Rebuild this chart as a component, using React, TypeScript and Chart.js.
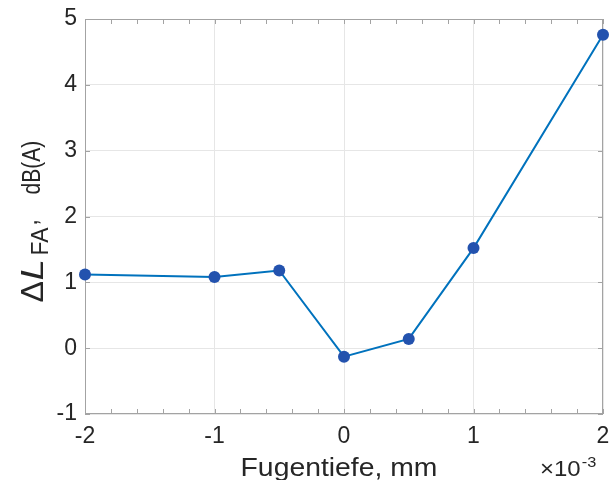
import React, { useEffect, useRef } from "react";
import { Chart, registerables } from "chart.js";

Chart.register(...registerables);

// ---- data (x in units of 10^-3 mm) ----
const depths = [-2, -1, -0.5, 0, 0.5, 1, 2];
const deltaL = [1.12, 1.08, 1.18, -0.13, 0.14, 1.52, 4.76];
const xTicks = [-2, -1, 0, 1, 2];
const yTicks = [-1, 0, 1, 2, 3, 4, 5];
const xMinorStep = 0.2;
const xTitle = "Fugentiefe, mm";
const yTitleDelta = "Δ";
const yTitleSymbol = "L";
const yTitleSub = "FA";
const yTitleComma = ",";
const yTitleUnit = "dB(A)";
const exponentBase = "×10";
const exponentPower = "-3";

const FONT = "'Liberation Sans', Arial, Helvetica, sans-serif";
const TEXT = "#262626";
const AXIS = "#a3a3a3";

function drawRotatedPiece(
  ctx: CanvasRenderingContext2D,
  text: string,
  font: string,
  along: number,
  across: number,
  sAlong: number,
  sAcross: number
) {
  ctx.save();
  ctx.translate(along, across);
  ctx.scale(sAlong, sAcross);
  ctx.font = font;
  ctx.fillText(text, 0, 0);
  ctx.restore();
}

const framePlugin = {
  id: "matlabFrame",
  beforeDatasetsDraw(chart: any) {
    const { ctx, chartArea: a, scales } = chart;
    const x = scales.x;
    const y = scales.y;
    const tl = 5;
    ctx.save();
    ctx.strokeStyle = AXIS;
    ctx.lineWidth = 1;
    ctx.beginPath();
    const xMin = xTicks[0];
    const xMax = xTicks[xTicks.length - 1];
    const n = Math.round((xMax - xMin) / xMinorStep);
    for (let i = 0; i <= n; i++) {
      const v = xMin + i * xMinorStep;
      const px = Math.round(x.getPixelForValue(v)) + 0.5;
      ctx.moveTo(px, a.bottom);
      ctx.lineTo(px, a.bottom - tl);
      ctx.moveTo(px, a.top);
      ctx.lineTo(px, a.top + tl);
    }
    for (const v of yTicks) {
      const py = Math.round(y.getPixelForValue(v)) + 0.5;
      ctx.moveTo(a.left, py);
      ctx.lineTo(a.left + tl, py);
      ctx.moveTo(a.right, py);
      ctx.lineTo(a.right - tl, py);
    }
    ctx.stroke();
    ctx.strokeRect(
      Math.round(a.left) + 0.5,
      Math.round(a.top) + 0.5,
      Math.round(a.right) - Math.round(a.left) - 1,
      Math.round(a.bottom) - Math.round(a.top) - 1
    );
    ctx.restore();
  },
  afterDraw(chart: any) {
    const { ctx, chartArea: a } = chart;
    ctx.save();
    ctx.fillStyle = TEXT;
    ctx.textBaseline = "alphabetic";
    ctx.textAlign = "left";

    // x title
    const cx = (a.left + a.right) / 2 - 5;
    ctx.save();
    ctx.translate(cx, 476);
    ctx.scale(1.09, 1);
    ctx.textAlign = "center";
    ctx.font = `26px ${FONT}`;
    ctx.fillText(xTitle, 0, 0);
    ctx.restore();

    // exponent
    ctx.save();
    ctx.translate(a.right - 63, 476);
    ctx.scale(1.09, 1);
    ctx.font = `22px ${FONT}`;
    ctx.fillText(exponentBase, 0, 0);
    const w = ctx.measureText(exponentBase).width;
    ctx.font = `15px ${FONT}`;
    ctx.fillText(exponentPower, w + 1, -9);
    ctx.restore();

    // y title (rotated, reads bottom to top)
    const cy = (a.top + a.bottom) / 2;
    ctx.save();
    ctx.translate(43, cy + 86);
    ctx.rotate(-Math.PI / 2);
    drawRotatedPiece(ctx, yTitleDelta, `32px ${FONT}`, 0, 0, 1.0, 1);
    drawRotatedPiece(ctx, yTitleSymbol, `italic 31px ${FONT}`, 22, 0, 1.25, 1);
    drawRotatedPiece(ctx, yTitleSub, `23px ${FONT}`, 47, 5, 1, 1);
    drawRotatedPiece(ctx, yTitleComma, `22px ${FONT}`, 77, -6, 1, 1.2);
    drawRotatedPiece(ctx, yTitleUnit, `21px ${FONT}`, 108, -3, 1, 1.25);
    ctx.restore();

    ctx.restore();
  },
};

export default function App() {
  const ref = useRef<HTMLCanvasElement | null>(null);

  useEffect(() => {
    if (!ref.current) return;
    const tickFont = { family: FONT, size: 23 };
    const chart = new Chart(ref.current, {
      type: "line",
      data: {
        datasets: [
          {
            data: depths.map((d, i) => ({ x: d, y: deltaL[i] })),
            borderColor: "#0072BD",
            borderWidth: 2,
            pointRadius: 6,
            pointBackgroundColor: "#2352AE",
            pointBorderColor: "#2352AE",
            pointBorderWidth: 0,
            pointHoverRadius: 6,
            tension: 0,
            clip: false as any,
          },
        ],
      },
      options: {
        animation: false,
        responsive: false,
        events: [],
        layout: { padding: { top: 19, right: 6, left: 0, bottom: 0 } },
        plugins: {
          legend: { display: false },
          tooltip: { enabled: false },
        },
        scales: {
          x: {
            type: "linear",
            min: xTicks[0],
            max: xTicks[xTicks.length - 1],
            afterBuildTicks: (s: any) => {
              s.ticks = xTicks.map((v) => ({ value: v }));
            },
            afterFit: (s: any) => {
              s.height = 66;
              s.paddingLeft = 0;
              s.paddingRight = 0;
            },
            grid: { color: "#e6e6e6", drawTicks: false },
            border: { display: false },
            ticks: { font: tickFont, color: TEXT, padding: 9, maxRotation: 0, autoSkip: false },
          },
          y: {
            type: "linear",
            min: yTicks[0],
            max: yTicks[yTicks.length - 1],
            afterBuildTicks: (s: any) => {
              s.ticks = yTicks.map((v) => ({ value: v }));
            },
            afterFit: (s: any) => {
              s.width = 85;
              s.paddingTop = 0;
              s.paddingBottom = 0;
            },
            grid: { color: "#e6e6e6", drawTicks: false },
            border: { display: false },
            ticks: { font: tickFont, color: TEXT, padding: 8, autoSkip: false },
          },
        },
      },
      plugins: [framePlugin],
    });
    return () => chart.destroy();
  }, []);

  return (
    <div style={{ position: "absolute", left: 0, top: 0, width: 609, height: 480, background: "#fff" }}>
      <canvas ref={ref} width={609} height={480} style={{ display: "block" }} />
    </div>
  );
}
